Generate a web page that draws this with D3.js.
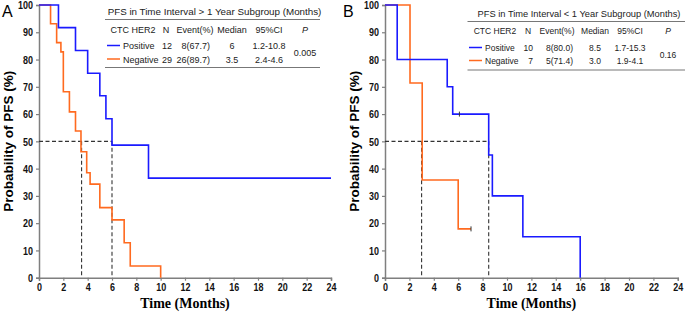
<!DOCTYPE html>
<html><head><meta charset="utf-8">
<script src="https://cdn.jsdelivr.net/npm/d3@7"></script>
<style>body{margin:0;background:#fff}svg{display:block}</style>
</head><body>
<svg id="c" width="685" height="313"></svg>
<script>
// ---- data ----
const xTicks = [0,2,4,6,8,10,12,14,16,18,20,22,24];
const yTicks = [0,10,20,30,40,50,60,70,80,90,100];
// Panel A: [time, survival%]
const aPositive = [[0,100],[1.6,91.7],[3.0,83.3],[4.0,75],[5.0,66.7],[5.5,58.3],[6.0,48.6],[9.0,36.5],[24,36.5]];
const aNegative = [[0,100],[0.95,93.1],[1.45,86.2],[1.8,82.8],[2.0,68.2],[2.5,60.8],[3.0,53.8],[3.45,46.2],[3.92,38.5],[4.2,34.3],[5.0,25.7],[6.0,21.2],[7.0,12.8],[7.5,4.3],[10.0,0]];
const aMedians = [3.5, 6.0];
// Panel B
const bPositive = [[0,100],[1.0,80],[5.1,70],[5.55,60],[8.5,45],[8.8,30],[11.3,15],[16.0,0]];
const bNegative = [[0,100],[2.05,71.4],[3.05,35.8],[6.0,17.9],[7.05,17.9]];
const bCensor = [{t:6.1,s:60,g:"pos"},{t:7.05,s:17.9,g:"neg"}];
const bMedians = [3.0, 8.5];
const tableHeader = ["CTC HER2","N","Event(%)","Median","95%CI","P"];
const aRows = [["Positive","12","8(67.7)","6","1.2-10.8"],["Negative","29","26(89.7)","3.5","2.4-4.6"]];
const bRows = [["Positive","10","8(80.0)","8.5","1.7-15.3"],["Negative","7","5(71.4)","3.0","1.9-4.1"]];
const aP = "0.005", bP = "0.16";
const aTitle = "PFS in Time Interval > 1 Year Subgroup (Months)";
const bTitle = "PFS in Time Interval < 1 Year Subgroup (Months)";

const BLUE = "#1a1aff", ORANGE = "#ff6a1f", AXIS = "#7f7f7f";
const svg = d3.select("#c");
const SX = 0.78;

function panel(o){
  const g = svg.append("g");
  const x = d3.scaleLinear().domain([0,24]).range([o.x0,o.x1]);
  const y = d3.scaleLinear().domain([0,100]).range([277.7,5]);
  // axes
  const ya = g.append("g").attr("transform",`translate(${o.x0},0)`)
    .call(d3.axisLeft(y).tickValues(yTicks).tickSize(3).tickPadding(2));
  const xa = g.append("g").attr("transform",`translate(0,277.7)`)
    .call(d3.axisBottom(x).tickValues(xTicks).tickSize(3).tickPadding(2));
  [ya,xa].forEach(a=>{
    a.select(".domain").attr("stroke",AXIS).attr("stroke-width",1.5);
    a.selectAll(".tick line").attr("stroke",AXIS).attr("stroke-width",1.2);
    a.selectAll("text").attr("font-family","Liberation Sans, Arial, sans-serif")
      .attr("font-weight","bold").attr("font-size",11.5).attr("fill","#111")
      .attr("transform",`scale(${SX},1)`);
  });
  ya.selectAll("text").attr("x",-6/SX);
  // dashed median lines
  const dash = g.append("g").attr("stroke","#333").attr("stroke-width",1.1).attr("stroke-dasharray","4,2.5").attr("fill","none");
  dash.append("line").attr("x1",x(0)).attr("x2",x(d3.max(o.med))).attr("y1",y(50)).attr("y2",y(50));
  o.med.forEach(m=>dash.append("line").attr("x1",x(m)).attr("x2",x(m)).attr("y1",y(50)).attr("y2",y(0)));
  // curves
  const line = d3.line().x(d=>x(d[0])).y(d=>y(d[1])).curve(d3.curveStepAfter);
  g.append("path").datum(o.neg).attr("d",line).attr("fill","none").attr("stroke",ORANGE).attr("stroke-width",1.6);
  g.append("path").datum(o.pos).attr("d",line).attr("fill","none").attr("stroke",BLUE).attr("stroke-width",1.6);
  (o.censor||[]).forEach(c=>g.append("line").attr("x1",x(c.t)).attr("x2",x(c.t))
     .attr("y1",y(c.s)-2.5).attr("y2",y(c.s)+2.5).attr("stroke","#333").attr("stroke-width",1));
  // panel letter
  g.append("text").attr("x",o.lx).attr("y",17).text(o.letter)
    .attr("font-family","Liberation Sans, Arial, sans-serif").attr("font-size",16);
  // titles
  g.append("text").attr("transform",`translate(${o.x0-26},${y(50)}) rotate(-90)`).attr("text-anchor","middle")
    .attr("font-family","Liberation Sans, Arial, sans-serif").attr("font-weight","bold").attr("font-size",13.5)
    .text("Probability of PFS (%)");
  g.append("text").attr("x",(o.x0+x(24))/2).attr("y",308).attr("text-anchor","middle")
    .attr("font-family","Liberation Serif, Times New Roman, serif").attr("font-weight","bold").attr("font-size",14)
    .text("Time (Months)");
  // table
  const t = o.tab, fs = o.tfs;
  const tg = g.append("g").attr("font-family","Liberation Sans, Arial, sans-serif").attr("font-size",fs).attr("fill","#222");
  tg.append("text").attr("x",t.titleX).attr("y",t.titleY).attr("text-anchor","middle").attr("font-size",fs+0.8).text(o.title);
  tg.append("line").attr("x1",t.lx0).attr("x2",t.lx1).attr("y1",t.l1).attr("y2",t.l1).attr("stroke","#777").attr("stroke-width",1);
  tg.append("line").attr("x1",t.lx0).attr("x2",t.lx1).attr("y1",t.l2).attr("y2",t.l2).attr("stroke","#777").attr("stroke-width",1);
  tableHeader.forEach((h,i)=>{
    const tx = tg.append("text").attr("x",t.cols[i]).attr("y",t.hy).attr("text-anchor","middle").text(h);
    if(h==="P") tx.attr("font-style","italic");
  });
  o.rows.forEach((r,j)=>{
    const yy = t.ry[j];
    tg.append("line").attr("x1",t.legX0).attr("x2",t.legX1).attr("y1",yy-3.5).attr("y2",yy-3.5)
      .attr("stroke",j===0?BLUE:ORANGE).attr("stroke-width",1.5);
    tg.append("text").attr("x",t.legX1+3).attr("y",yy).text(r[0]);
    tg.append("text").attr("x",t.nX).attr("y",yy).attr("text-anchor","end").text(r[1]);
    tg.append("text").attr("x",t.evX).attr("y",yy).attr("text-anchor","end").text(r[2]);
    tg.append("text").attr("x",t.cols[3]).attr("y",yy).attr("text-anchor","middle").text(r[3]);
    tg.append("text").attr("x",t.cols[4]).attr("y",yy).attr("text-anchor","middle").text(r[4]);
  });
  tg.append("text").attr("x",t.cols[5]).attr("y",(t.ry[0]+t.ry[1])/2).attr("text-anchor","middle").text(o.p);
}

panel({x0:39,x1:331,letter:"A",lx:2,pos:aPositive,neg:aNegative,med:aMedians,title:aTitle,rows:aRows,p:aP,tfs:9,
  tab:{titleX:214.5,titleY:15,lx0:105,lx1:320,l1:19.5,l2:67.5,hy:33,cols:[133,166,195,232,269,305],
       ry:[49,62.5],legX0:107,legX1:120,nX:172,evX:210}});
panel({x0:385,x1:677.8,letter:"B",lx:343,pos:bPositive,neg:bNegative,censor:bCensor,med:bMedians,title:bTitle,rows:bRows,p:bP,tfs:8.5,
  tab:{titleX:579,titleY:17,lx0:467.5,lx1:685,l1:21.5,l2:70,hy:34,cols:[495,528,557,595,630,668],
       ry:[51,64],legX0:469,legX1:482,nX:533,evX:573}});
</script>
</body></html>
